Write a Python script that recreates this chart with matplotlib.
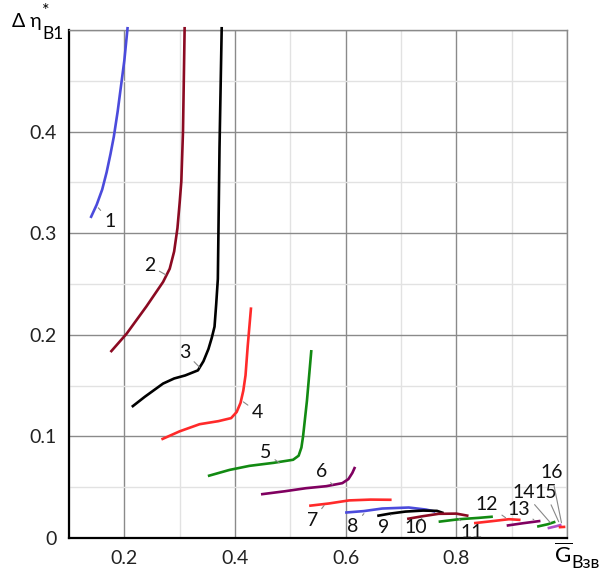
import matplotlib
matplotlib.use("Agg")
import matplotlib.pyplot as plt
from matplotlib.ticker import MultipleLocator, FixedLocator, FixedFormatter

plt.rcParams['font.family'] = ['Lato', 'DejaVu Sans']
plt.rcParams['mathtext.fontset'] = 'custom'
plt.rcParams['mathtext.rm'] = 'Lato'

# curves: (x, y)
x1 = [0.139, 0.150, 0.160, 0.168, 0.175, 0.181, 0.188, 0.194, 0.200, 0.206]
y1 = [0.315, 0.328, 0.343, 0.360, 0.378, 0.395, 0.420, 0.445, 0.470, 0.503]
x2 = [0.175, 0.204, 0.240, 0.270, 0.282, 0.290, 0.296, 0.300, 0.303, 0.306, 0.309]
y2 = [0.183, 0.201, 0.228, 0.252, 0.265, 0.282, 0.305, 0.330, 0.351, 0.400, 0.503]
x3 = [0.2135, 0.237, 0.270, 0.290, 0.310, 0.333, 0.343, 0.352, 0.358, 0.363, 0.366, 0.369, 0.372, 0.376]
y3 = [0.129, 0.139, 0.152, 0.157, 0.160, 0.165, 0.174, 0.186, 0.197, 0.208, 0.230, 0.255, 0.384, 0.503]
x4 = [0.267, 0.300, 0.336, 0.370, 0.393, 0.403, 0.410, 0.415, 0.419, 0.423, 0.429]
y4 = [0.097, 0.105, 0.112, 0.115, 0.118, 0.124, 0.133, 0.145, 0.160, 0.189, 0.227]
x5 = [0.351, 0.390, 0.426, 0.470, 0.505, 0.515, 0.520, 0.523, 0.526, 0.530, 0.538]
y5 = [0.061, 0.067, 0.071, 0.074, 0.077, 0.081, 0.089, 0.100, 0.115, 0.135, 0.185]
x6 = [0.447, 0.490, 0.528, 0.565, 0.594, 0.605, 0.612, 0.617]
y6 = [0.043, 0.046, 0.049, 0.051, 0.054, 0.058, 0.064, 0.070]
x7 = [0.534, 0.570, 0.606, 0.645, 0.683]
y7 = [0.0317, 0.034, 0.037, 0.0378, 0.0376]
x8 = [0.599, 0.633, 0.666, 0.714, 0.745, 0.762]
y8 = [0.025, 0.0265, 0.029, 0.030, 0.028, 0.026]
x9 = [0.657, 0.680, 0.708, 0.740, 0.765, 0.777]
y9 = [0.0218, 0.024, 0.026, 0.027, 0.0267, 0.0245]
x10 = [0.711, 0.740, 0.768, 0.800, 0.822]
y10 = [0.0188, 0.0215, 0.0238, 0.024, 0.0218]
x11 = [0.768, 0.805, 0.840, 0.866]
y11 = [0.016, 0.0185, 0.0198, 0.021]
x12 = [0.832, 0.865, 0.895, 0.916]
y12 = [0.0146, 0.0166, 0.0185, 0.0178]
x13 = [0.891, 0.920, 0.952]
y13 = [0.0122, 0.0145, 0.0168]
x14 = [0.946, 0.965, 0.979]
y14 = [0.0112, 0.0135, 0.016]
x15 = [0.965, 0.980, 0.990]
y15 = [0.0096, 0.0115, 0.013]
x16 = [0.985, 0.997]
y16 = [0.0106, 0.011]

xs = [x1, x2, x3, x4, x5, x6, x7, x8, x9, x10, x11, x12, x13, x14, x15, x16]
ys = [y1, y2, y3, y4, y5, y6, y7, y8, y9, y10, y11, y12, y13, y14, y15, y16]
names = [str(i) for i in range(1, 17)]
colors = ['#4b4bdc', '#8b0a22', '#000000', '#ff2a2a', '#128a12', '#800060',
          '#ff2a2a', '#4b4bdc', '#000000', '#8b0a22', '#128a12', '#ff2a2a',
          '#800060', '#128a12', '#b050c8', '#ff2a2a']

# label text position and leader end on the curve
lab_pos = [(0.174, 0.312), (0.246, 0.268), (0.309, 0.183), (0.4405, 0.124),
           (0.455, 0.084), (0.556, 0.065), (0.540, 0.017), (0.6135, 0.011),
           (0.669, 0.010), (0.727, 0.010), (0.828, 0.005), (0.855, 0.033),
           (0.913, 0.028), (0.922, 0.045), (0.961, 0.045), (0.972, 0.064)]
lead_end = [(0.153, 0.325), (0.275, 0.259), (0.336, 0.168), (0.415, 0.134),
            (0.480, 0.074), (0.576, 0.0525), (0.561, 0.032), (0.633, 0.024),
            (0.682, 0.023), (0.738, 0.020), (0.8045, 0.019), (0.889, 0.020),
            (0.940, 0.018), (0.970, 0.015), (0.985, 0.016), (0.990, 0.015)]

fig = plt.figure(figsize=(6.14, 5.76), dpi=100)
ax = fig.add_axes([69 / 614, 38 / 576, 498 / 614, 508 / 576])

ax.set_xlim(0.1, 1.0)
ax.set_ylim(0, 0.5)
ax.xaxis.set_minor_locator(MultipleLocator(0.1))
ax.yaxis.set_minor_locator(MultipleLocator(0.05))
ax.xaxis.set_major_locator(FixedLocator([0.2, 0.4, 0.6, 0.8, 1.0]))
ax.xaxis.set_major_formatter(FixedFormatter(['0.2', '0.4', '0.6', '0.8', '']))
ax.yaxis.set_major_locator(FixedLocator([0, 0.1, 0.2, 0.3, 0.4, 0.5]))
ax.yaxis.set_major_formatter(FixedFormatter(['0', '0.1', '0.2', '0.3', '0.4', '']))
ax.grid(which='major', color='#8a8a8a', lw=1.0)
ax.grid(which='minor', color='#e2e2e2', lw=1.0)
ax.set_axisbelow(True)
ax.tick_params(which='both', length=0, labelsize=14, pad=9, colors='#222222')

for s in ['left', 'bottom']:
    ax.spines[s].set_color('#000000')
    ax.spines[s].set_linewidth(1.6)
for s in ['top', 'right']:
    ax.spines[s].set_color('#8a8a8a')
    ax.spines[s].set_linewidth(1.0)

for x, y, c in zip(xs, ys, colors):
    ax.plot(x, y, color=c, lw=1.9, solid_capstyle='butt', solid_joinstyle='round',
            clip_on=False, zorder=3)

for n, p, e in zip(names, lab_pos, lead_end):
    ax.annotate(n, xy=e, xytext=p, ha='center', va='center', fontsize=14,
                color='#111111', zorder=4,
                arrowprops=dict(arrowstyle='-', color='#888888', lw=0.8,
                                shrinkA=1, shrinkB=0))

# axis titles
fig.text(12 / 614, 1 - 22 / 576, 'Δ η', fontsize=14, ha='left', va='center')
fig.text(42 / 614, 1 - 11 / 576, '*', fontsize=13, ha='left', va='center')
fig.text(42 / 614, 1 - 34 / 576, 'В1', fontsize=12.5, ha='left', va='center')
fig.text(554 / 614, 1 - 555 / 576, r'$\overline{\mathrm{G}}$', fontsize=16,
         ha='left', va='center')
fig.text(571 / 614, 1 - 563 / 576, 'Взв', fontsize=13, ha='left', va='center')

fig.savefig('out.png', dpi=100)
